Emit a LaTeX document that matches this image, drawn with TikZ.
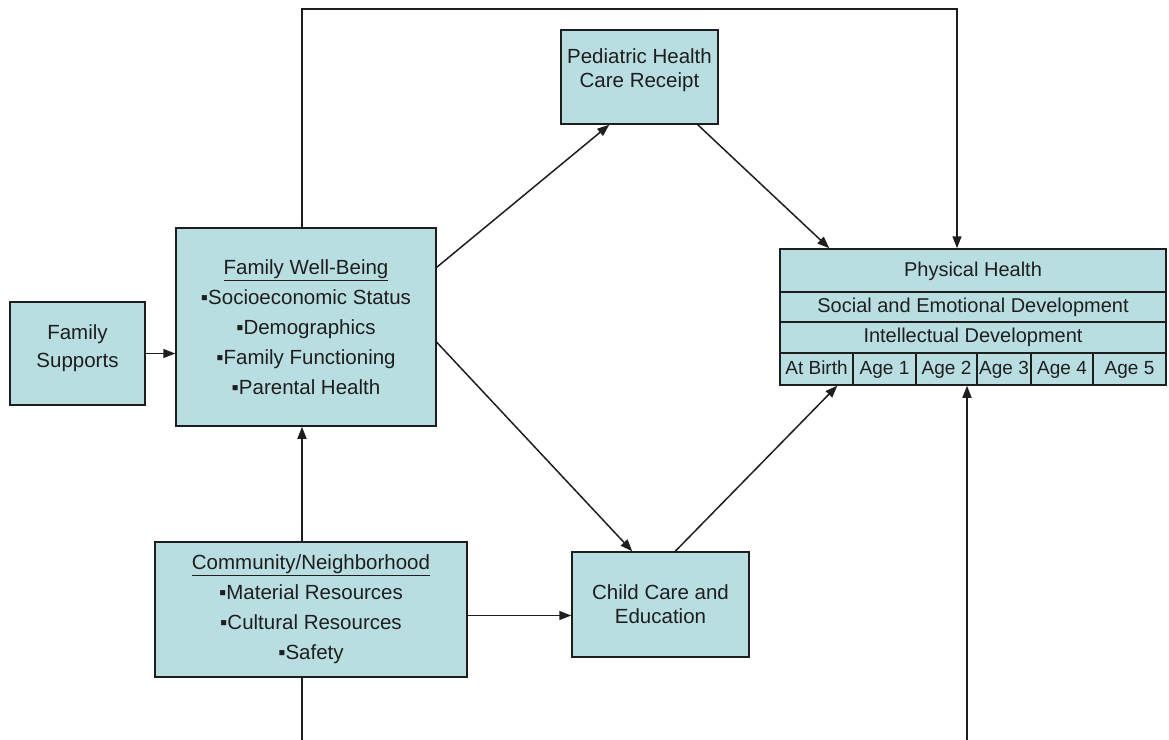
\documentclass[tikz,border=0pt]{standalone}
\usepackage{fontspec}
\setmainfont{Liberation Sans}
\usetikzlibrary{arrows.meta,calc}
\definecolor{boxfill}{RGB}{185,222,226}
\definecolor{ink}{RGB}{30,30,30}
\begin{document}
\begin{tikzpicture}[x=1pt,y=-1pt,
  box/.style={draw=ink, fill=boxfill, line width=1.5pt, align=center, inner sep=0pt,
    text=ink, font=\fontsize{20.5}{30}\selectfont},
  tightbox/.style={box, font=\fontsize{20.5}{24}\selectfont},
  cell/.style={box, font=\fontsize{20}{22}\selectfont},
  agecell/.style={box, font=\fontsize{19}{22}\selectfont, text height=14pt, text depth=4pt, minimum height=32pt},
  conn/.style={draw=ink, line width=1.5pt},
  arr/.style={conn, -{Triangle[length=12pt,width=9pt]}}]
\useasboundingbox (0,0) rectangle (1169,739);

% boxes
\node[box, font=\fontsize{20.5}{28}\selectfont, minimum width=135pt, minimum height=103pt, text depth=14pt] (fs) at (77.5,353.5) {Family\\Supports};
\node[box, minimum width=260pt, minimum height=198pt] (fwb) at (306,327)
  {\underline{Family Well-Being}\\▪Socioeconomic Status\\▪Demographics\\▪Family Functioning\\▪Parental Health};
\node[tightbox, minimum width=157pt, minimum height=94pt, text depth=18pt] (ped) at (639.5,77) {Pediatric Health\\Care Receipt};
\node[box, minimum width=312pt, minimum height=135pt] (comm) at (311,609.5)
  {\underline{Community/Neighborhood}\\▪Material Resources\\▪Cultural Resources\\▪Safety};
\node[tightbox, minimum width=177pt, minimum height=105pt] (cc) at (660.5,604.5) {Child Care and\\Education};

% outcome table
\node[cell, minimum width=386pt, minimum height=43pt, text depth=2pt] (ph) at (973,270.5) {Physical Health};
\node[cell, minimum width=386pt, minimum height=30pt] (se) at (973,307) {Social and Emotional Development};
\node[cell, minimum width=386pt, minimum height=31pt] (id) at (973,337.5) {Intellectual Development};
\node[agecell, minimum width=73pt] (a0) at (816.5,369) {At Birth};
\node[agecell, minimum width=63pt] (a1) at (884.5,369) {Age 1};
\node[agecell, minimum width=61pt] (a2) at (946.5,369) {Age 2};
\node[agecell, minimum width=54pt] (a3) at (1004,369) {Age 3};
\node[agecell, minimum width=62pt] (a4) at (1062,369) {Age 4};
\node[agecell, minimum width=73pt] (a5) at (1129.5,369) {Age 5};

% connectors
\draw[arr] (fs.east) -- (fs.east -| fwb.west);
\draw[arr] ($(fwb.north east)+(0,40)$) -- ($(ped.south west)+(49,0)$);
\draw[arr] ($(ped.south east)+(-21,0)$) -- ($(ph.north west)+(50,0)$);
\coordinate (tl) at (302,9);
\coordinate (tr) at (957,9);
\draw[arr] (fwb.north -| tl) -- (tl) -- (tr) -- (tr |- ph.north);
\draw[arr] ($(fwb.north east)+(0,115)$) -- ($(cc.north west)+(61,0)$);
\draw[arr] (comm.north -| tl) -- (tl |- fwb.south);
\coordinate (ce) at ($(comm.east)+(0,6)$);
\draw[arr] (ce) -- (ce -| cc.west);
\draw[arr] ($(cc.north west)+(104,0)$) -- ($(a0.south west)+(58,0)$);
\coordinate (bl) at (302,760);
\coordinate (br) at (967,760);
\draw[arr] (comm.south -| bl) -- (bl) -- (br) -- (br |- a2.south);
\end{tikzpicture}
\end{document}
